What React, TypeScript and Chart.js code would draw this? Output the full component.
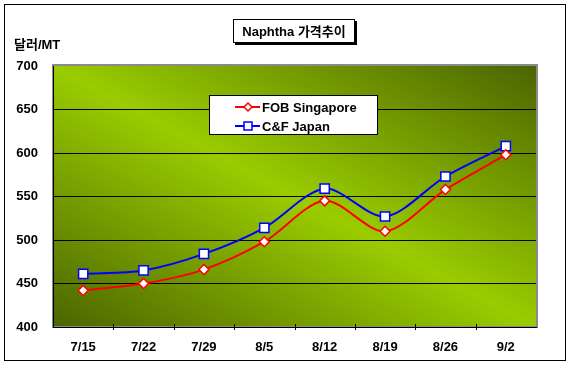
import React, { useEffect, useRef } from "react";
import { Chart, registerables } from "chart.js";

Chart.register(...registerables);

const categories = ["7/15", "7/22", "7/29", "8/5", "8/12", "8/19", "8/26", "9/2"];
const fobSingapore = [442, 450, 466, 498, 545, 510, 558, 598];
const cfJapan = [461, 465, 484, 514, 559, 527, 573, 608];
const seriesNames = ["FOB Singapore", "C&F Japan"];
const titleText = "Naphtha 가격추이";
const unitText = "달러/MT";
const yMin = 400;
const yMax = 700;
const yStep = 50;

const FONT = '"Liberation Sans", Arial, "Noto Sans CJK KR", sans-serif';

const decorPlugin = {
  id: "decor",
  beforeDraw(chart: any) {
    const { ctx, chartArea } = chart;
    const { left, top, right, bottom } = chartArea;
    const w = right - left;
    const h = bottom - top;
    ctx.save();
    // white page
    ctx.fillStyle = "#ffffff";
    ctx.fillRect(0, 0, chart.width, chart.height);
    // outer border
    ctx.strokeStyle = "#000000";
    ctx.lineWidth = 1;
    ctx.strokeRect(4.5, 4.5, 561, 356);
    // gradient: bright along TL-BR diagonal, dark at BL and TR
    const cx = left + w / 2;
    const cy = top + h / 2;
    const n = Math.sqrt(w * w + h * h);
    const dx = h / n;
    const dy = -w / n;
    const ext = (w * h) / n / 1;
    const g = ctx.createLinearGradient(cx - dx * ext, cy - dy * ext, cx + dx * ext, cy + dy * ext);
    g.addColorStop(0, "#4b6500");
    g.addColorStop(0.5, "#9acc00");
    g.addColorStop(1, "#4b6500");
    ctx.fillStyle = g;
    ctx.fillRect(left, top, w, h);
    // gray frame (shadow)
    ctx.strokeStyle = "#8a8a8a";
    ctx.lineWidth = 2;
    ctx.strokeRect(left, top - 1, w + 1, h + 1);
    ctx.restore();
  },
  afterDraw(chart: any) {
    const { ctx, chartArea } = chart;
    const xs = chart.scales.x;
    ctx.save();
    // x tick marks at category boundaries
    ctx.strokeStyle = "#000000";
    ctx.lineWidth = 1;
    for (let i = 1; i < categories.length; i++) {
      const px = Math.round((xs.getPixelForValue(i - 1) + xs.getPixelForValue(i)) / 2) + 0.5;
      ctx.beginPath();
      ctx.moveTo(px, chartArea.bottom - 3);
      ctx.lineTo(px, chartArea.bottom + 3);
      ctx.stroke();
    }
    // unit label
    ctx.fillStyle = "#000000";
    ctx.font = "bold 13px " + FONT;
    ctx.textBaseline = "middle";
    ctx.textAlign = "left";
    ctx.fillText(unitText, 14, 45);

    // title box
    const bx = 233, by = 19, bw = 122, bh = 24;
    ctx.fillStyle = "#000000";
    ctx.fillRect(bx + 2, by + 2, bw, bh);
    ctx.fillStyle = "#ffffff";
    ctx.fillRect(bx, by, bw, bh);
    ctx.strokeStyle = "#000000";
    ctx.lineWidth = 1;
    ctx.strokeRect(bx + 0.5, by + 0.5, bw - 1, bh - 1);
    ctx.fillStyle = "#000000";
    ctx.textAlign = "center";
    ctx.fillText(titleText, bx + bw / 2, by + bh / 2 + 1);

    // legend
    const lx = 209, ly = 95, lw = 169, lh = 40;
    ctx.fillStyle = "#ffffff";
    ctx.fillRect(lx, ly, lw, lh);
    ctx.strokeStyle = "#000000";
    ctx.strokeRect(lx + 0.5, ly + 0.5, lw - 1, lh - 1);
    const rowsY = [107, 126];
    chart.data.datasets.forEach((ds: any, i: number) => {
      const y = rowsY[i];
      ctx.strokeStyle = ds.borderColor;
      ctx.lineWidth = 2;
      ctx.beginPath();
      ctx.moveTo(235, y);
      ctx.lineTo(260, y);
      ctx.stroke();
      ctx.fillStyle = "#ffffff";
      ctx.lineWidth = 1.5;
      ctx.beginPath();
      if (ds.pointStyle === "rect") {
        ctx.rect(244, y - 4, 8, 8);
      } else {
        ctx.moveTo(248, y - 4);
        ctx.lineTo(252, y);
        ctx.lineTo(248, y + 4);
        ctx.lineTo(244, y);
        ctx.closePath();
      }
      ctx.fill();
      ctx.stroke();
      ctx.fillStyle = "#000000";
      ctx.textAlign = "left";
      ctx.fillText(ds.label, 262, y + 1);
    });
    ctx.restore();
  },
};

export default function App() {
  const canvasRef = useRef<HTMLCanvasElement | null>(null);

  useEffect(() => {
    document.body.style.margin = "0";
    const canvas = canvasRef.current;
    if (!canvas) return;
    const chart = new Chart(canvas, {
      type: "line",
      data: {
        labels: categories,
        datasets: [
          {
            label: seriesNames[0],
            data: fobSingapore,
            borderColor: "#ff0000",
            backgroundColor: "#ffffff",
            borderWidth: 2,
            pointStyle: "rectRot",
            pointRadius: 5,
            pointBorderWidth: 1.5,
            pointBackgroundColor: "#ffffff",
            pointBorderColor: "#ff0000",
            tension: 0.3,
            fill: false,
          },
          {
            label: seriesNames[1],
            data: cfJapan,
            borderColor: "#0000ff",
            backgroundColor: "#ffffff",
            borderWidth: 2,
            pointStyle: "rect",
            pointRadius: 6.5,
            pointBorderWidth: 1.5,
            pointBackgroundColor: "#ffffff",
            pointBorderColor: "#0000ff",
            tension: 0.3,
            fill: false,
          },
        ],
      },
      options: {
        animation: false,
        responsive: false,
        maintainAspectRatio: false,
        layout: { padding: { top: 66, right: 35, bottom: 0, left: 0 } },
        plugins: {
          legend: { display: false },
          title: { display: false },
          tooltip: { enabled: false },
        },
        scales: {
          x: {
            offset: true,
            grid: { display: false, drawTicks: false },
            border: { display: true, color: "#000000", width: 1 },
            ticks: {
              color: "#000000",
              font: { family: FONT, size: 13, weight: "bold" },
              padding: 13,
              maxRotation: 0,
              autoSkip: false,
            },
            afterFit: (scale: any) => {
              scale.height = 38;
            },
          },
          y: {
            min: yMin,
            max: yMax,
            grid: {
              drawTicks: false,
              color: (c: any) =>
                c.tick && c.tick.value > yMin && c.tick.value < yMax ? "#000000" : "rgba(0,0,0,0)",
              lineWidth: 1,
            },
            border: { display: true, color: "#000000", width: 1 },
            ticks: {
              stepSize: yStep,
              color: "#000000",
              font: { family: FONT, size: 13, weight: "bold" },
              padding: 15,
            },
            afterFit: (scale: any) => {
              scale.width = 53;
            },
          },
        },
      },
      plugins: [decorPlugin],
    } as any);
    return () => chart.destroy();
  }, []);

  return (
    <div style={{ position: "absolute", left: 0, top: 0, width: 571, height: 365 }}>
      <canvas ref={canvasRef} width={571} height={365} style={{ display: "block" }} />
    </div>
  );
}
